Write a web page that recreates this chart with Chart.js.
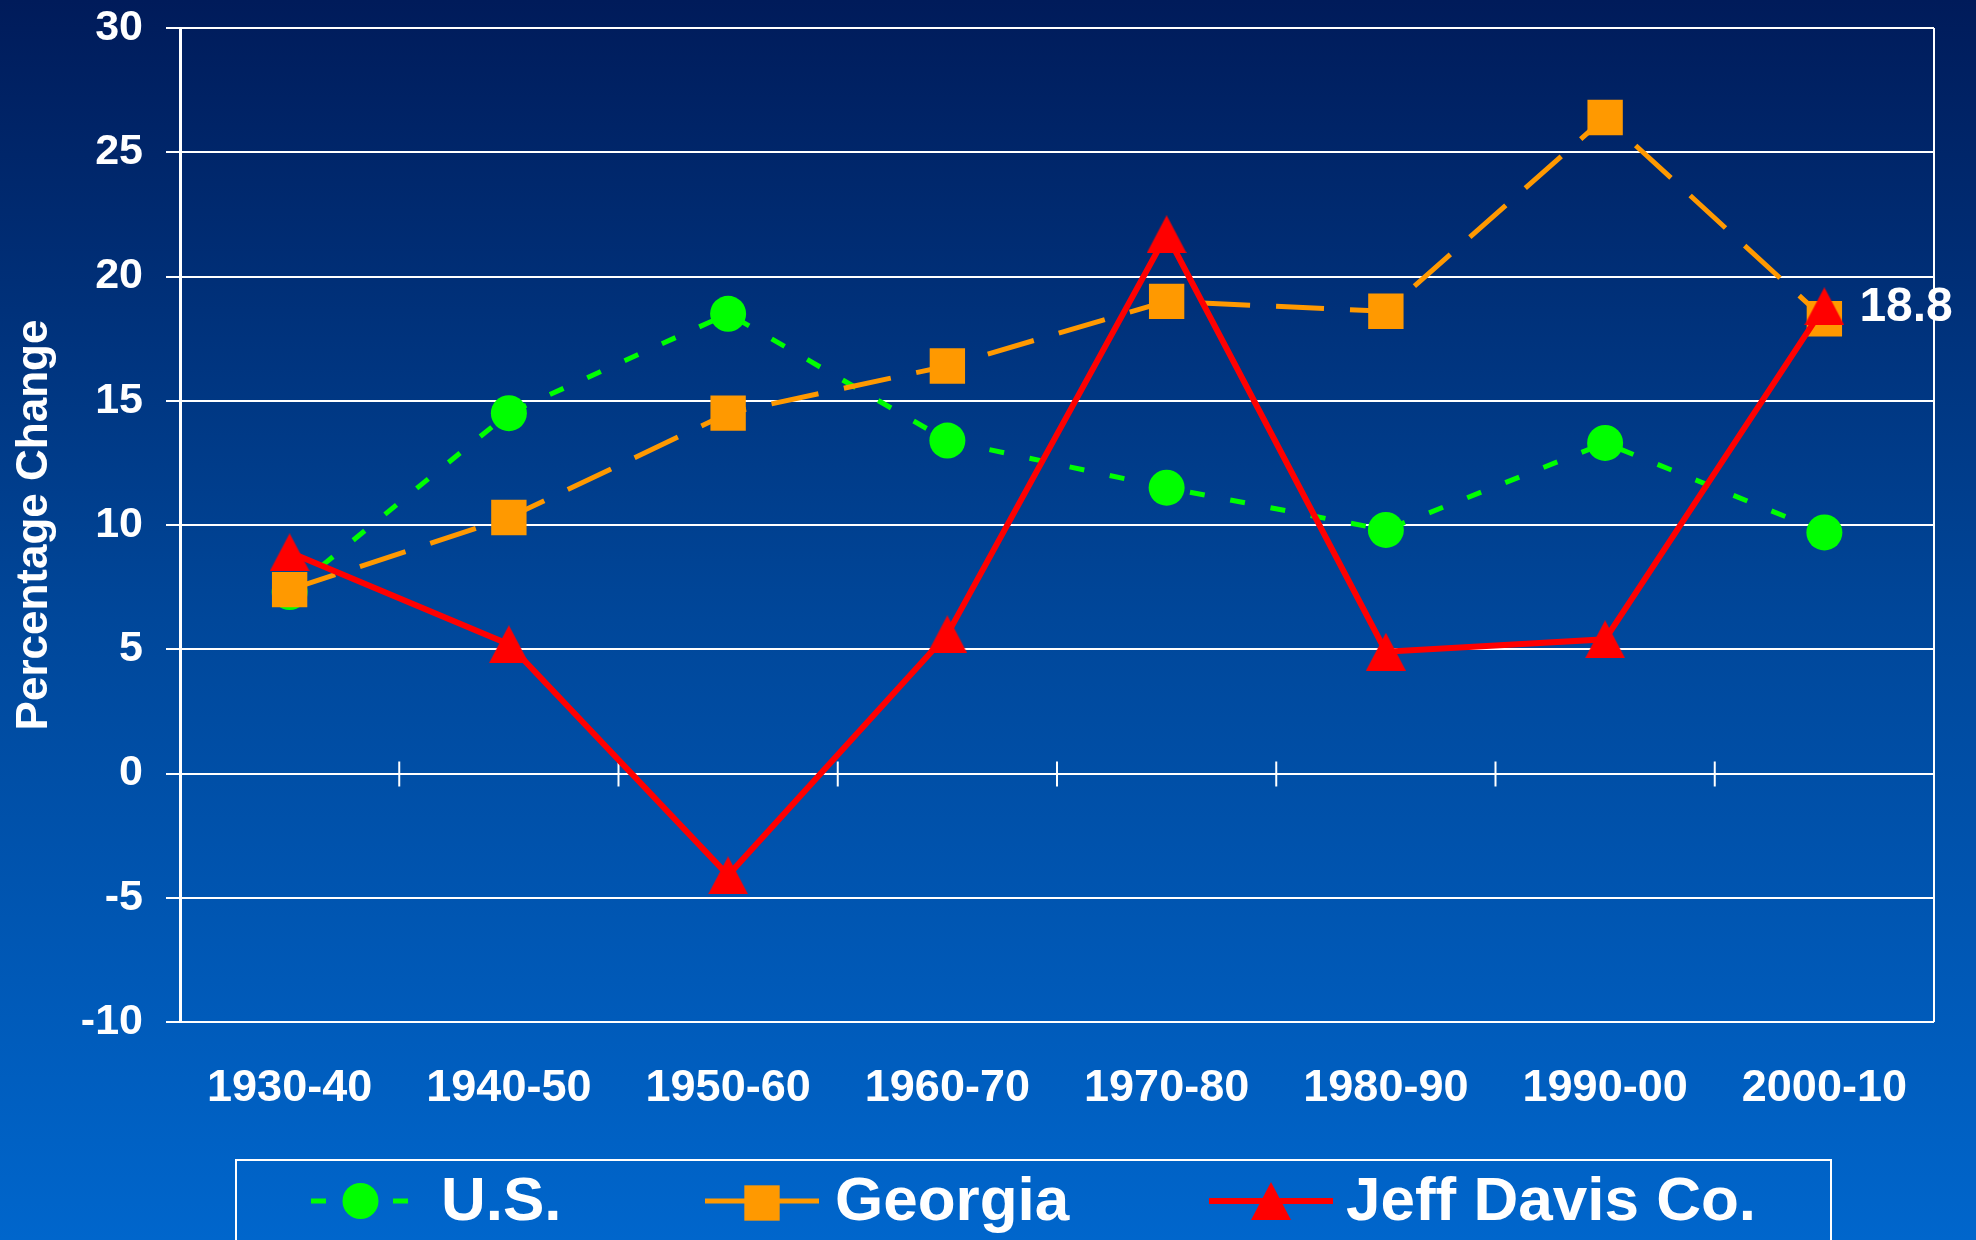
<!DOCTYPE html>
<html>
<head>
<meta charset="utf-8">
<script src="https://cdn.jsdelivr.net/npm/chart.js"></script>
<style>
  html, body { margin: 0; padding: 0; background: #003a8a; }
  canvas { display: block; }
</style>
</head>
<body>
<canvas id="popChart" width="1976" height="1240"></canvas>
<script>
// ── Datos ─────────────────────────────────────────────
const periods = ['1930-40', '1940-50', '1950-60', '1960-70', '1970-80', '1980-90', '1990-00', '2000-10'];
const usChange = [7.3, 14.5, 18.5, 13.4, 11.5, 9.8, 13.3, 9.7];
const georgiaChange = [7.4, 10.3, 14.5, 16.4, 19.0, 18.6, 26.4, 18.3];
const jeffDavisChange = [8.9, 5.2, -4.1, 5.6, 21.7, 4.9, 5.4, 18.8];
const seriesNames = ['U.S.', 'Georgia', 'Jeff Davis Co.'];
const yMin = -10, yMax = 30, yStep = 5;
const axisTitle = 'Percentage Change';

const FONT = '"Liberation Sans", Arial, sans-serif';
const GREEN = '#00ff00', ORANGE = '#ff9900', RED = '#ff0000';

// triangulo centrado por su caja (como en PowerPoint)
function makeTriangle(w, h, color) {
  const c = document.createElement('canvas');
  c.width = w; c.height = h;
  const g = c.getContext('2d');
  g.fillStyle = color;
  g.beginPath();
  g.moveTo(w / 2, 0);
  g.lineTo(w, h);
  g.lineTo(0, h);
  g.closePath();
  g.fill();
  return c;
}
const triangleImg = makeTriangle(40, 38, RED);

// ── Plugins ───────────────────────────────────────────
const backgroundPlugin = {
  id: 'bgGradient',
  beforeDraw(chart) {
    const { ctx, width, height } = chart;
    const grad = ctx.createLinearGradient(0, 0, 0, height);
    grad.addColorStop(0, '#001b5a');
    grad.addColorStop(0.5, '#00479a');
    grad.addColorStop(1, '#0066cc');
    ctx.save();
    ctx.fillStyle = grad;
    ctx.fillRect(0, 0, width, height);
    ctx.restore();
  }
};

const framePlugin = {
  id: 'frame',
  beforeDatasetsDraw(chart) {
    const { ctx, chartArea, scales } = chart;
    const x = scales.x, y = scales.y;
    const zeroY = y.getPixelForValue(0);
    ctx.save();
    ctx.strokeStyle = '#ffffff';
    ctx.lineWidth = 2;
    // borde derecho
    ctx.beginPath();
    ctx.moveTo(chartArea.right, chartArea.top);
    ctx.lineTo(chartArea.right, chartArea.bottom);
    ctx.stroke();
    // marcas entre categorías sobre la línea del cero
    for (let i = 0; i < periods.length - 1; i++) {
      const bx = (x.getPixelForValue(i) + x.getPixelForValue(i + 1)) / 2;
      ctx.beginPath();
      ctx.moveTo(bx, zeroY - 12);
      ctx.lineTo(bx, zeroY + 13);
      ctx.stroke();
    }
    ctx.restore();
  }
};

const lastLabelPlugin = {
  id: 'lastLabel',
  afterDatasetsDraw(chart) {
    const idx = chart.data.datasets.findIndex(d => d.label === 'Jeff Davis Co.');
    const meta = chart.getDatasetMeta(idx);
    const last = meta.data[meta.data.length - 1];
    const val = chart.data.datasets[idx].data[meta.data.length - 1];
    const { ctx } = chart;
    ctx.save();
    ctx.fillStyle = '#ffffff';
    ctx.font = `bold 48px ${FONT}`;
    ctx.textAlign = 'left';
    ctx.textBaseline = 'middle';
    ctx.fillText(val.toFixed(1), last.x + 35, last.y + 1);
    ctx.restore();
  }
};

// leyenda propia: línea + marcador + texto
const legendBox = { left: 236, top: 1160, right: 1831, bottom: 1300 };
const legendSlots = [
  { from: 311, to: 410, textX: 441 },
  { from: 705, to: 819, textX: 835 },
  { from: 1209, to: 1333, textX: 1346 }
];
const legendPlugin = {
  id: 'customLegend',
  afterDraw(chart) {
    const { ctx } = chart;
    const cy = 1201;
    ctx.save();
    ctx.strokeStyle = '#ffffff';
    ctx.lineWidth = 2;
    ctx.strokeRect(legendBox.left, legendBox.top, legendBox.right - legendBox.left, legendBox.bottom - legendBox.top);

    chart.data.datasets.forEach((ds, i) => {
      const slot = legendSlots[i];
      const mx = (slot.from + slot.to) / 2;
      ctx.save();
      ctx.strokeStyle = ds.borderColor;
      ctx.lineWidth = ds.borderWidth;
      ctx.setLineDash(ds.borderDash || []);
      ctx.beginPath();
      ctx.moveTo(slot.from, cy);
      ctx.lineTo(slot.to, cy);
      ctx.stroke();
      ctx.restore();

      ctx.fillStyle = ds.pointBackgroundColor;
      if (ds.pointStyle === 'circle') {
        ctx.beginPath();
        ctx.arc(mx, cy, ds.pointRadius, 0, Math.PI * 2);
        ctx.fill();
      } else if (ds.pointStyle === 'rect') {
        const half = ds.pointRadius * Math.SQRT1_2;
        ctx.fillRect(mx - half, cy + 2 - half, half * 2, half * 2);
      } else {
        const img = ds.pointStyle;
        ctx.drawImage(img, mx - img.width / 2, cy - img.height / 2);
      }

      ctx.fillStyle = '#ffffff';
      ctx.font = `bold 62px ${FONT}`;
      ctx.textAlign = 'left';
      ctx.textBaseline = 'middle';
      ctx.fillText(ds.label, slot.textX, cy + 2);
    });
    ctx.restore();
  }
};

// ── Gráfico ───────────────────────────────────────────
const ctx = document.getElementById('popChart').getContext('2d');
new Chart(ctx, {
  type: 'line',
  data: {
    labels: periods,
    datasets: [
      {
        label: seriesNames[0], data: usChange, order: 3,
        borderColor: GREEN, borderWidth: 5, borderDash: [15, 26],
        pointStyle: 'circle', pointRadius: 18, pointBorderWidth: 0,
        pointBackgroundColor: GREEN, pointBorderColor: GREEN,
        tension: 0, fill: false
      },
      {
        label: seriesNames[1], data: georgiaChange, order: 2,
        borderColor: ORANGE, borderWidth: 5, borderDash: [48, 26],
        pointStyle: 'rect', pointRadius: 25, pointBorderWidth: 0,
        pointBackgroundColor: ORANGE, pointBorderColor: ORANGE,
        tension: 0, fill: false
      },
      {
        label: seriesNames[2], data: jeffDavisChange, order: 1,
        borderColor: RED, borderWidth: 6,
        pointStyle: triangleImg, pointRadius: 20, pointBorderWidth: 0,
        pointBackgroundColor: RED, pointBorderColor: RED,
        tension: 0, fill: false
      }
    ]
  },
  options: {
    responsive: false,
    animation: false,
    devicePixelRatio: 1,
    layout: { padding: { top: 28, right: 42, bottom: 0, left: 0 } },
    plugins: {
      legend: { display: false },
      tooltip: { enabled: false }
    },
    scales: {
      x: {
        type: 'category',
        offset: true,
        grid: { display: false, drawTicks: false, offset: true },
        border: { display: false },
        ticks: {
          color: '#ffffff',
          padding: 40,
          maxRotation: 0,
          autoSkip: false,
          font: { family: FONT, size: 45, weight: 'bold' }
        },
        afterFit(scale) { scale.height = 218; }
      },
      y: {
        min: yMin,
        max: yMax,
        ticks: {
          stepSize: yStep,
          color: '#ffffff',
          padding: 23,
          font: { family: FONT, size: 43, weight: 'bold' }
        },
        grid: { color: '#ffffff', lineWidth: 2, tickLength: 14, drawTicks: true },
        border: { color: '#ffffff', width: 3 },
        title: {
          display: true,
          text: axisTitle,
          color: '#ffffff',
          padding: { top: 8, bottom: 0 },
          font: { family: FONT, size: 44, weight: 'bold' }
        },
        afterFit(scale) {
          scale.width = 180;
          scale.paddingTop = 0;
          scale.paddingBottom = 0;
        }
      }
    }
  },
  plugins: [backgroundPlugin, framePlugin, lastLabelPlugin, legendPlugin]
});
</script>
</body>
</html>
